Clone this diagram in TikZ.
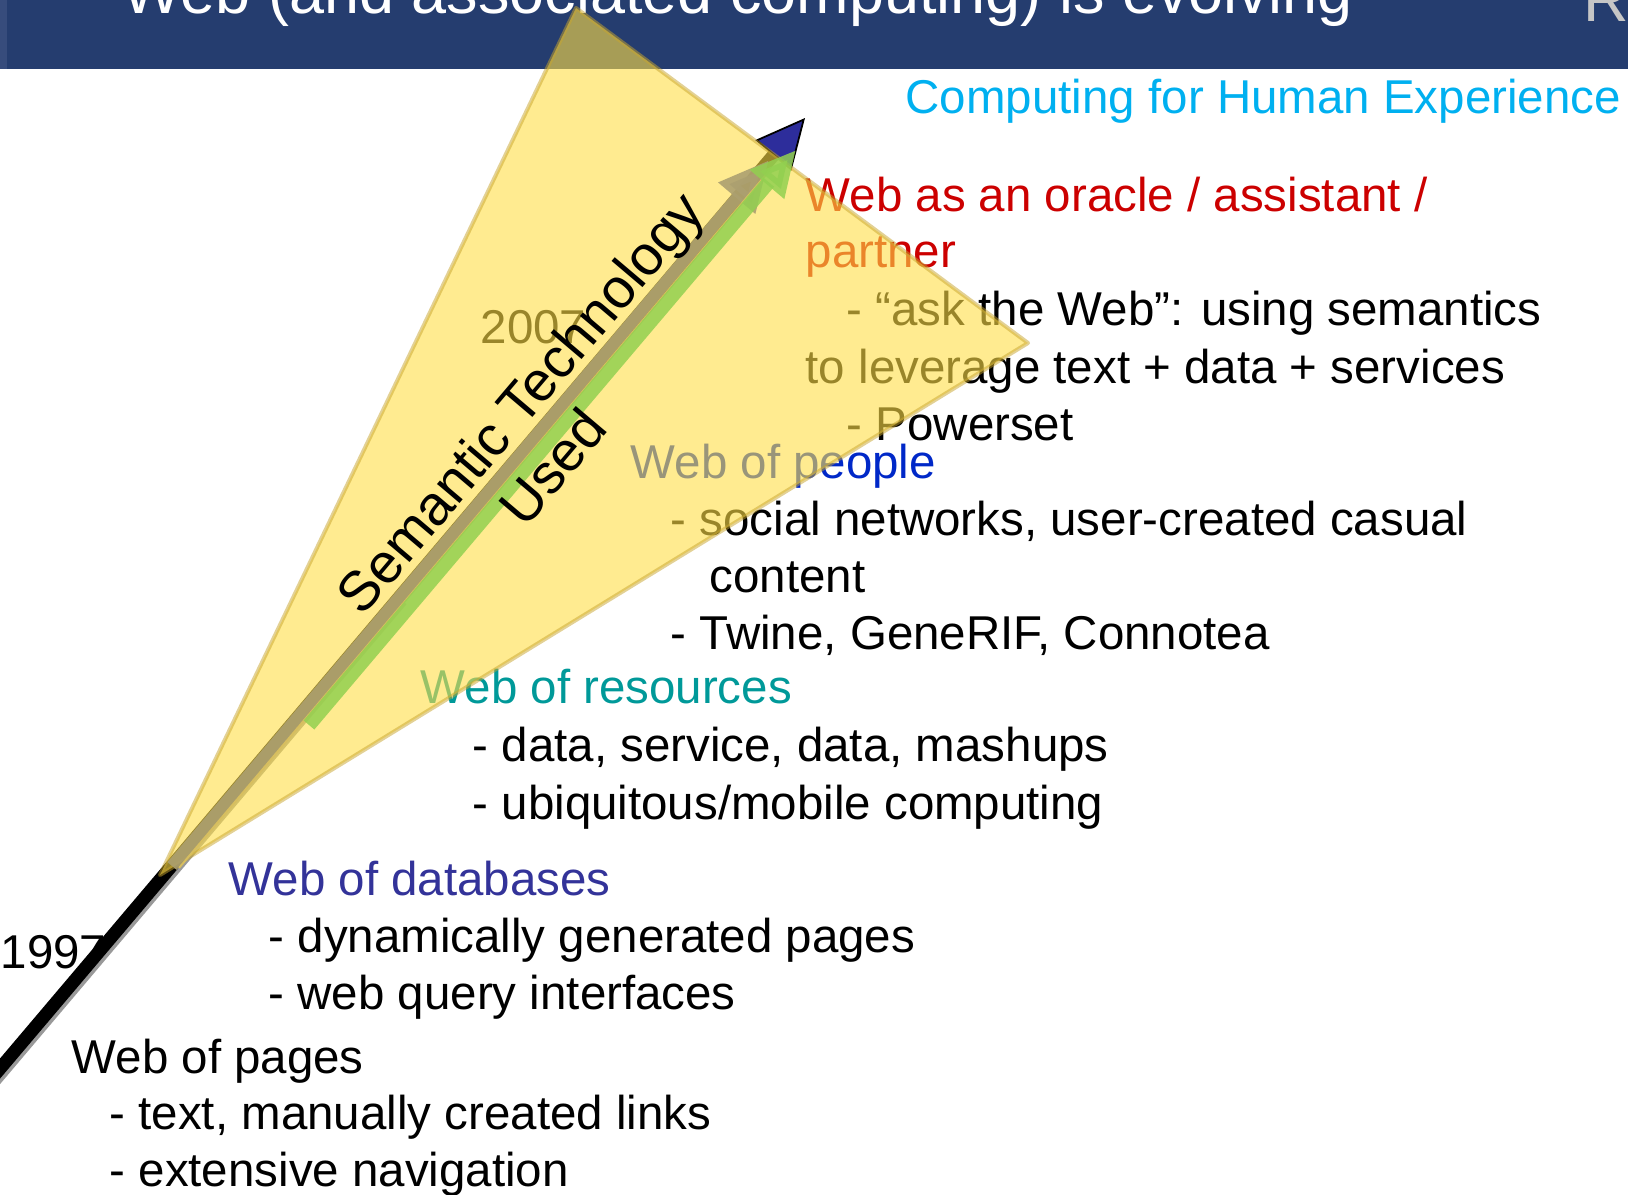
\documentclass[tikz,border=0pt]{standalone}
\usepackage{fontspec}
\setmainfont{Liberation Sans}
\usetikzlibrary{arrows.meta,calc}
\definecolor{bandblue}{RGB}{37,61,111}
\definecolor{bandedge}{RGB}{55,76,124}
\definecolor{conefill}{RGB}{255,222,70}
\definecolor{coneedge}{RGB}{200,165,45}
\definecolor{arrowtan}{RGB}{172,160,112}
\definecolor{thinline}{RGB}{215,190,95}
\definecolor{arrowgreen}{RGB}{146,208,80}
\definecolor{headnavy}{RGB}{45,45,155}
\definecolor{oraclered}{RGB}{204,0,0}
\definecolor{peopleblue}{RGB}{0,40,200}
\definecolor{resteal}{RGB}{0,153,153}
\definecolor{dbblue}{RGB}{51,51,153}
\definecolor{humancyan}{RGB}{0,176,240}

\begin{document}
\begin{tikzpicture}[x=0.01cm,y=-0.01cm,
  every node/.style={inner sep=0pt,anchor=base west,font=\fontsize{13.5}{16.2}\selectfont},
  big/.style={font=\fontsize{17.9}{21}\selectfont}]
\clip (0,0) rectangle (1628,1194);
\fill[white] (0,0) rectangle (1628,1194);
\fill[bandblue] (0,0) rectangle (1628,69);
\fill[bandedge] (0,0) rectangle (7,69);
\begin{scope}
\clip (0,0) rectangle (1628,69);
\node[big,white] (title) at (122,14) {Web (and associated computing) is evolving};
\node[big,gray!45] (logo) at (1583,22) {R};
\end{scope}

% time line
\coordinate (t0) at (-8,1078);
\coordinate (t1) at (805,118);
\draw[black!40,line width=1.3mm] ($(t0)+(3,2)$) -- ($(t0)!0.5!(t1)+(3,2)$);
\draw[line width=1.3mm,-{Triangle[length=4.9mm,width=4.7mm,line width=0.5pt,fill=headnavy]}] (t0) -- (t1);

\node (y1997) at (0,968) {1997};
\node (y2007) at (480,343) {2007};
\node[humancyan] (che) at (905,114) {Computing for Human Experience};
\node[oraclered] (oracle) at (805,211) {Web as an oracle / assistant /};
\node[oraclered] (partner) at (805,268) {partner};
\node[peopleblue] (people) at (630,478) {Web of people};
\node[resteal] (resources) at (420,703) {Web of resources};
\node[dbblue] (databases) at (228,895) {Web of databases};
\node (pages) at (71,1073) {Web of pages};
\foreach \x/\y/\t [count=\i] in {846/325/{- “ask the Web”: using semantics},
  805/383/{to leverage text + data + services},846/440/{- Powerset},
  670/535/{- social networks, user-created casual},709/592/{content},
  670/649/{- Twine, GeneRIF, Connotea},472/761/{- data, service, data, mashups},
  472/819/{- ubiquitous/mobile computing},268/952/{- dynamically generated pages},
  268/1009/{- web query interfaces},109/1129/{- text, manually created links},
  109/1186/{- extensive navigation}}
  \node (item\i) at (\x,\y) {\t};

% cone
\coordinate (apex) at (576,8);
\coordinate (cright) at (1028,343);
\coordinate (cbottom) at (160,875);
\fill[conefill,opacity=0.6] (apex) -- (cright) -- (cbottom) -- cycle;
\draw[coneedge,opacity=0.5,line width=0.4mm,line join=round] (apex) -- (cright) -- (cbottom) -- cycle;

\coordinate (tan0) at (172,866);
\coordinate (tan1) at (769,160);
\draw[arrowtan,opacity=0.9,line width=1.2mm,-{Triangle[length=5mm,width=4.5mm]}] (tan0) -- (tan1);
\draw[thinline,line width=0.2mm] (179,868) -- (770,170);
\coordinate (g0) at (309,725);
\coordinate (g1) at (796,150);
\draw[arrowgreen,opacity=0.85,line width=1.4mm,-{Triangle[length=4.5mm,width=4.2mm]}] (g0) -- (g1);

\node[rotate=49.7,anchor=center,align=center,font=\fontsize{15.9}{19}\selectfont] (sem) at (545,424) {Semantic Technology\\Used\hspace*{5.6mm}};
\end{tikzpicture}
\end{document}
